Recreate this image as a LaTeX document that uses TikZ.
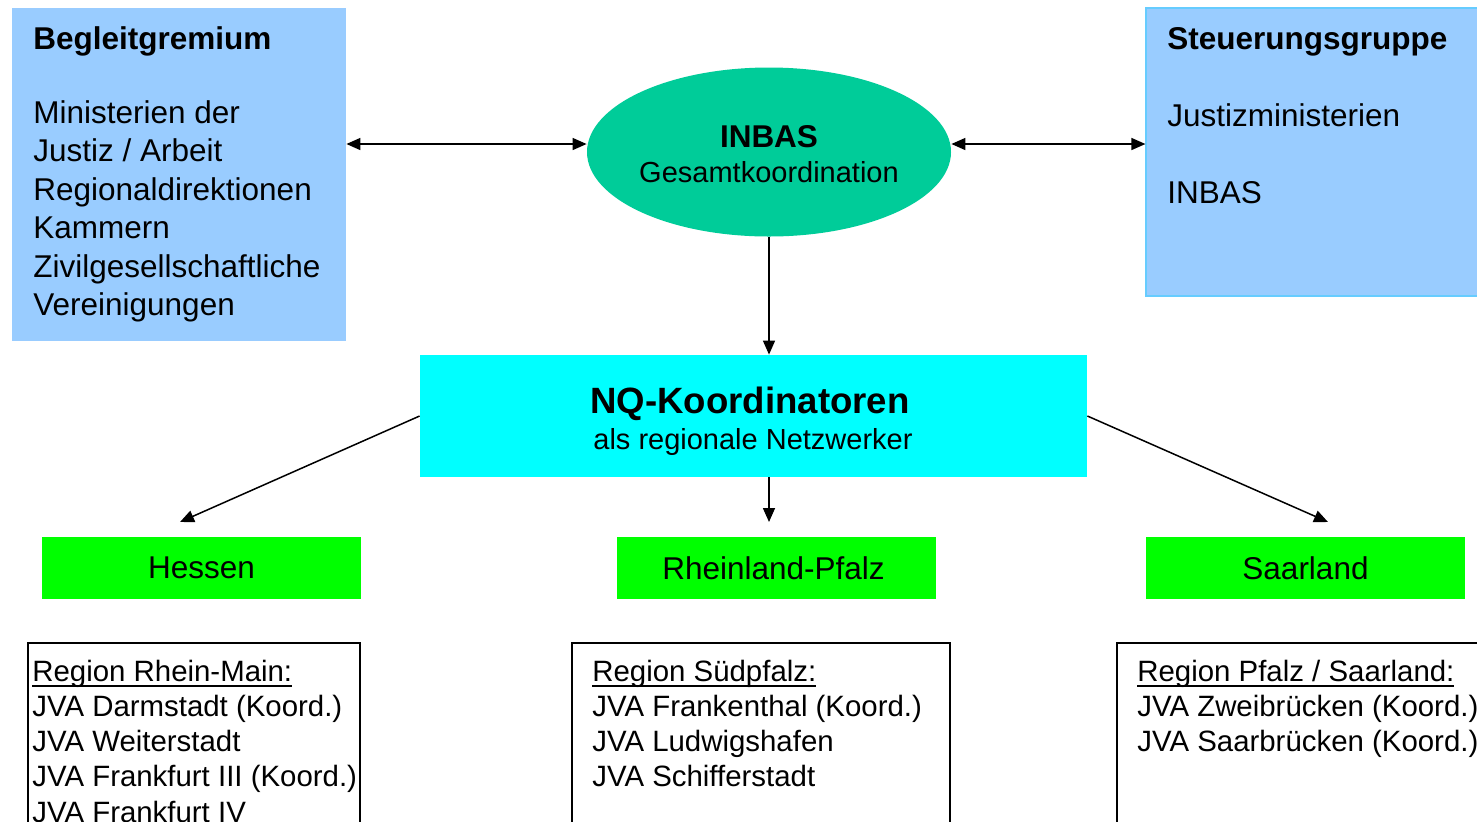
\documentclass[tikz,border=0pt]{standalone}
\usepackage{fontspec}
\setmainfont{Liberation Sans}
\usetikzlibrary{arrows.meta,shapes.geometric}
\definecolor{boxblue}{HTML}{99CCFF}
\definecolor{boxblueline}{HTML}{66CCFF}
\definecolor{inbasgreen}{HTML}{00CC99}
\definecolor{nqcyan}{HTML}{00FFFF}
\definecolor{landgreen}{HTML}{00FF00}
\newsavebox\ulbox
\newcommand\ulinetext[1]{\sbox\ulbox{#1}\rlap{\usebox\ulbox}\rule[-3pt]{\wd\ulbox}{1pt}}
\tikzset{
  bluebox/.style={rectangle, fill=boxblue, inner sep=0pt},
  landbox/.style={rectangle, fill=landgreen, inner sep=0pt, minimum width=159.5pt, minimum height=31pt, font=\fontsize{15.75}{18}\selectfont},
  jvabox/.style={rectangle, draw=black, line width=0.9pt, inner sep=0pt, minimum height=128.5pt},
  txt/.style={inner sep=0pt, anchor=base west},
  arr/.style={line width=0.75pt, -{Triangle[length=7pt,width=6pt]}},
  darr/.style={line width=0.75pt, {Triangle[length=7pt,width=6pt]}-{Triangle[length=7pt,width=6pt]}}
}
\begin{document}
\begin{tikzpicture}[x=0.5pt,y=-0.5pt]
\clip (0,0) rectangle (1477,821);
\fill[white] (0,0) rectangle (1477,821);
% top row
\node[bluebox, minimum width=167pt, minimum height=166.5pt] (beg) at (179,174.5) {};
\node[bluebox, draw=boxblueline, line width=0.6pt, minimum width=174.5pt, minimum height=144pt] (steu) at (1320.5,152) {};
\node[ellipse, fill=inbasgreen, inner sep=0pt, minimum width=182pt, minimum height=84.5pt] (inbas) at (769,152) {};
\node[txt] (begtext) at (33,49) {\fontsize{15.75}{19.25}\selectfont
  \begin{tabular}[t]{@{}l@{}}\textbf{Begleitgremium}\\[-1.5pt] \\ Ministerien der\\ Justiz / Arbeit\\ Regionaldirektionen\\ Kammern\\ Zivilgesellschaftliche\\ Vereinigungen\end{tabular}};
\node[txt] (steutext) at (1167,49) {\fontsize{15.75}{19.25}\selectfont
  \begin{tabular}[t]{@{}l@{}}\textbf{Steuerungsgruppe}\\ \\ Justizministerien\\ \\ INBAS\end{tabular}};
\node[inner sep=0pt, anchor=base] (inbastext) at (769,147) {\fontsize{14.5}{17.5}\selectfont
  \begin{tabular}[t]{@{}c@{}}{\fontsize{15.75}{17.5}\selectfont\bfseries INBAS}\\ Gesamtkoordination\end{tabular}};
% middle
\node[rectangle, fill=nqcyan, inner sep=0pt, minimum width=333.5pt, minimum height=61pt] (nq) at (753.5,416) {};
\node[inner sep=0pt, anchor=base] (nqtext) at (750,413) {\fontsize{14.5}{18.5}\selectfont
  \begin{tabular}[t]{@{}c@{}}{\fontsize{18.3}{18.5}\selectfont\bfseries NQ-Koordinatoren}\\[-0.2pt] \hspace*{3pt}als regionale Netzwerker\end{tabular}};
% states
\node[landbox] (hessen) at (201.5,568) {Hessen};
\node[landbox, text width=159.5pt, align=center] (rlp) at (776.5,568) {\hspace*{-3pt}Rheinland-Pfalz};
\node[landbox] (saar) at (1305.5,568) {Saarland};
% bottom boxes
\node[jvabox, minimum width=166pt] (rm) at (194,771.5) {};
\node[jvabox, minimum width=189pt] (sp) at (761,771.5) {};
\node[jvabox, minimum width=191.5pt] (ps) at (1308.5,771.5) {};
\node[txt] (rmtext) at (32,681) {\fontsize{14.7}{17.65}\selectfont
  \begin{tabular}[t]{@{}l@{}}\ulinetext{Region Rhein-Main:}\\ JVA Darmstadt (Koord.)\\ JVA Weiterstadt\\ JVA Frankfurt III (Koord.)\\ JVA Frankfurt IV\end{tabular}};
\node[txt] (sptext) at (592,681) {\fontsize{14.7}{17.65}\selectfont
  \begin{tabular}[t]{@{}l@{}}\ulinetext{Region Südpfalz:}\\ JVA Frankenthal (Koord.)\\ JVA Ludwigshafen\\ JVA Schifferstadt\end{tabular}};
\node[txt] (pstext) at (1137,681) {\fontsize{14.7}{17.65}\selectfont
  \begin{tabular}[t]{@{}l@{}}\ulinetext{Region Pfalz / Saarland:}\\ JVA Zweibrücken (Koord.)\\ JVA Saarbrücken (Koord.)\end{tabular}};
% connectors
\coordinate (ay) at (0,144);
\coordinate (tipL) at (180,522);
\coordinate (tipM) at (769,522);
\coordinate (tipR) at (1328,522);
\draw[darr] (beg.east |- ay) -- (inbas.west |- ay);
\draw[darr] (inbas.east |- ay) -- (steu.west |- ay);
\draw[arr] (inbas.south) -- (inbas.south |- nq.north);
\draw[arr] (nq.west) -- (tipL);
\draw[arr] (nq.south -| inbas.south) -- (tipM);
\draw[arr] (nq.east) -- (tipR);
\end{tikzpicture}
\end{document}
